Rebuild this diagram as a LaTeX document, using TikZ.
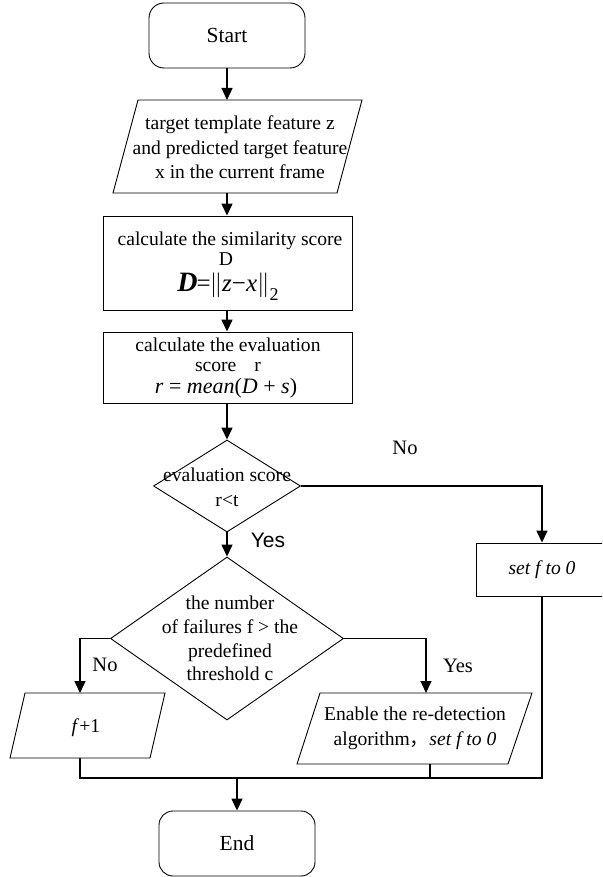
\documentclass[tikz,border=0pt]{standalone}
\usepackage{fontspec}
\setmainfont{Liberation Serif}
\newfontfamily\sansf{Liberation Sans}
\newfontfamily\cjkf{Noto Sans CJK SC}
\usetikzlibrary{shapes.geometric,arrows.meta}
\begin{document}
\begin{tikzpicture}[x=1pt,y=-1pt,
  shapeline/.style={draw=black, line width=0.9pt},
  flow/.style={line width=1.4pt, -{Triangle[length=12pt,width=11pt]}},
  link/.style={line width=1.4pt},
  txt/.style={font=\fontsize{19.6}{24.5}\selectfont, align=center, inner sep=0pt},
  term/.style={shapeline, rounded corners=15pt, minimum width=156pt, minimum height=65pt, inner sep=0pt, font=\fontsize{21.5}{24}\selectfont},
  procbox/.style={shapeline, rectangle, inner sep=0pt},
  decision/.style={shapeline, diamond, inner sep=0pt},
  lbl/.style={inner sep=0pt, font=\fontsize{20.5}{24}\selectfont}
]
\useasboundingbox (0,0) rectangle (602,877);
\clip (0,0) rectangle (602,877);

% Start
\node[term] (start) at (227,35.5) {Start};

% input parallelogram
\draw[shapeline] (138,100) -- (362,100) -- (337,193) -- (113,193) -- cycle;
\coordinate (inTop) at (227,100);
\coordinate (inBot) at (227,193);
\node[txt] (intext) at (240,147.5) {target template feature z\\and predicted target feature\\x in the current frame};

% similarity box
\node[procbox, minimum width=249pt, minimum height=94pt] (sim) at (227.5,263) {};
\node[txt] (simt1) at (230,241) {calculate the similarity score};
\node[txt] (simt2) at (226,259) {D};
\node[inner sep=0pt] (simf) at (228,287) {{\fontsize{28}{28}\selectfont\bfseries\itshape D}{\fontsize{25}{25}\selectfont\hspace{-1pt}=\hspace{-1pt}$\Big\|$\textit{z}−\textit{x}$\Big\|$}\raisebox{-9pt}{\fontsize{18}{18}\selectfont 2}};

% evaluation box
\node[procbox, minimum width=249pt, minimum height=71pt] (eva) at (227.5,367.5) {};
\node[txt] (evt1) at (228,345) {calculate the evaluation};
\node[txt] (evt2) at (228,367) {score\hspace{18pt}r};
\node[inner sep=0pt, font=\fontsize{22}{24}\selectfont] (evf) at (226,388) {\textit{r} = \textit{mean}(\textit{D} + \textit{s})};

% decision 1
\node[decision, minimum width=147pt, minimum height=92pt] (d1) at (227,486) {};
\node[txt, font=\fontsize{19.6}{25}\selectfont] (d1t) at (227,487.5) {evaluation score\\r<t};

% decision 2
\node[decision, minimum width=233pt, minimum height=163pt] (d2) at (227,638.5) {};
\node[txt, font=\fontsize{19.6}{23.7}\selectfont] (d2t) at (230,638.5) {the number\\of failures f > the\\predefined\\threshold c};

% set f to 0 box
\node[procbox, minimum width=132pt, minimum height=53pt] (sf) at (542,569.5) {};
\node[txt] (sft) at (542,569.5) {\textit{set f to 0}};

% enable parallelogram
\draw[shapeline] (320,693) -- (532,693) -- (508,764) -- (297,764) -- cycle;
\coordinate (enTop) at (426,693);
\coordinate (enBot) at (430,764);
\node[txt] (ent) at (415,728.5) {Enable the re-detection\\algorithm{\cjkf ，}\textit{set f to 0}};

% f+1 parallelogram
\draw[shapeline] (25,693) -- (165,693) -- (150,758) -- (10,758) -- cycle;
\coordinate (fpTop) at (80,693);
\coordinate (fpBot) at (80,758);
\node[txt] (fpt) at (86,728) {\textit{f}+1};

% End
\node[term, rounded corners=14pt] (end) at (237,843.5) {End};
\coordinate (merge) at (237,778);

% connectors
\draw[flow] (start.south) -- (inTop);
\draw[flow] (inBot) -- (sim.north -| inBot);
\draw[flow] (sim.south -| inBot) -- (eva.north -| inBot);
\draw[flow] (eva.south -| inBot) -- (d1.north);
\draw[flow] (d1.south) -- (d2.north);
\draw[flow] (d1.east) -| (sf.north);
\draw[flow] (d2.east) -| (enTop);
\draw[flow] (d2.west) -| (fpTop);
\draw[link] (fpBot) |- (merge);
\draw[link] (enBot) |- (merge);
\draw[link] (sf.south) |- (merge);
\draw[flow] (merge) -- (end.north);

% labels
\node[lbl] (lno1) at (405,448) {No};
\node[lbl, font=\sansf\fontsize{21}{24}\selectfont] (lyes1) at (268,540) {Yes};
\node[lbl] (lno2) at (105,665) {No};
\node[lbl] (lyes2) at (458,666) {Yes};
\end{tikzpicture}
\end{document}
